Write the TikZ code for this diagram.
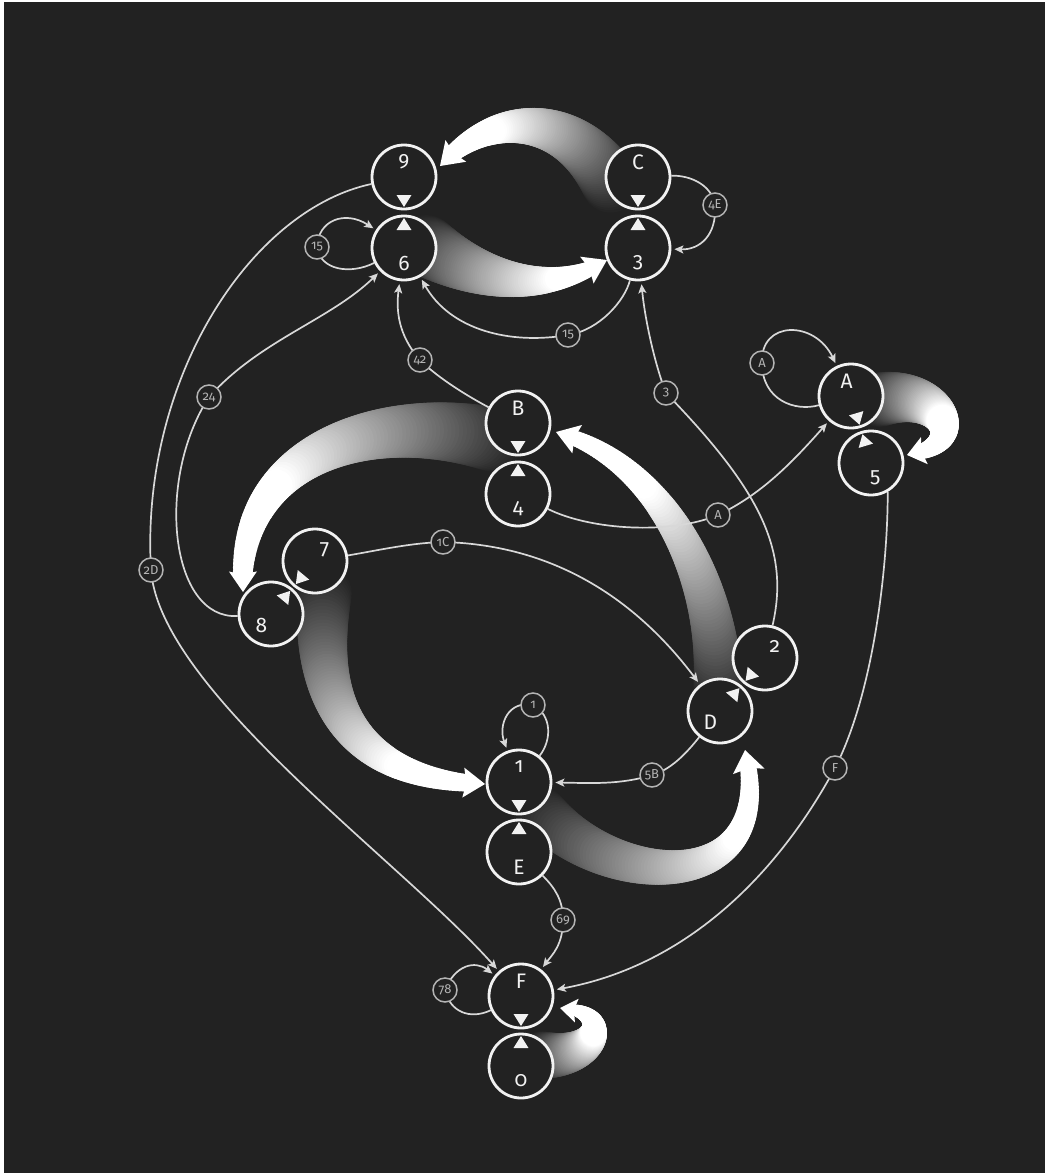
\documentclass[tikz,border=0pt]{standalone}
\usepackage{fontspec}
\setmainfont{Fira Sans}[Numbers=OldStyle]
\usetikzlibrary{arrows.meta,calc}
\definecolor{bg}{HTML}{222222}
\definecolor{edgec}{HTML}{D8D8D8}
\definecolor{lblc}{HTML}{B4B4B4}
\definecolor{nodec}{HTML}{F2F2F2}
\pgfdeclarelayer{bgl}
\pgfdeclarelayer{ribbons}
\pgfdeclarelayer{edges}
\pgfsetlayers{bgl,ribbons,edges,main}
\tikzset{
  stnode/.style={circle, draw=nodec, line width=2.8pt, fill=bg, minimum size=64pt, inner sep=0pt},
  lbl/.style={circle, draw=lblc, line width=1.5pt, fill=bg, minimum size=24pt, inner sep=0pt, text=lblc, font=\fontsize{13}{13}\selectfont},
  nlab/.style={text=nodec, font=\fontsize{21}{21}\selectfont, inner sep=0pt},
  link/.style={draw=edgec, line width=1.7pt, -{Stealth[length=9pt,width=8pt,inset=2pt]}, shorten >=3pt},
}
% ribbon: P0 P1 P2 P3 w0 w1 tbase halfhead gradfactor
\newcommand\ribbon[9]{%
  \foreach \t in {0,0.01,...,#7} {
    \pgfmathsetmacro\p{min(100,#9*100*\t/#7)}
    \pgfmathsetmacro\r{(#5+(#6-#5)*\t/#7)/2}
    \path (#1) .. controls (#2) and (#3) .. (#4) coordinate[pos=\t] (rp);
    \fill[white!\p!bg] (rp) circle[radius=\r pt];
  }
  \path (#1) .. controls (#2) and (#3) .. (#4) coordinate[pos=#7] (rb);
  \fill[white] (#4) -- ($(rb)!#8pt!90:(#4)$) -- ($(rb)!3pt!(#4)$) -- ($(rb)!#8pt!-90:(#4)$) -- cycle;
}
\newcommand\tripoint[2]{\fill[nodec] ($(#1)!30pt!(#2)$) -- ($(#1)!19.5pt!22.6:(#2)$) -- ($(#1)!19.5pt!-22.6:(#2)$) -- cycle;}
\begin{document}
\begin{tikzpicture}[x=1pt,y=-1pt]
\useasboundingbox (0,0) rectangle (1045,1173);
\begin{pgfonlayer}{bgl}
\fill[white] (0,0) rectangle (1045,1173);
\fill[bg] (4,2) rectangle (1045,1173);
\end{pgfonlayer}

% state nodes
\node[stnode] (n9) at (404,177) {};
\node[stnode] (n6) at (404,248) {};
\node[stnode] (nC) at (638,177) {};
\node[stnode] (n3) at (638,248) {};
\node[stnode] (nA) at (851,396) {};
\node[stnode] (n5) at (871,463) {};
\node[stnode] (nB) at (518,423) {};
\node[stnode] (n4) at (518,494) {};
\node[stnode] (n7) at (315,561) {};
\node[stnode] (n8) at (271,614) {};
\node[stnode] (n2) at (765,658) {};
\node[stnode] (nD) at (720,711) {};
\node[stnode] (n1) at (519,782) {};
\node[stnode] (nE) at (519,852) {};
\node[stnode] (nF) at (521,996) {};
\node[stnode] (n0) at (521,1066) {};

% texts and triangles of the pairs
\foreach \a/\b/\ta/\tb in {n9/n6/9/6, nC/n3/C/3, nA/n5/A/5, nB/n4/B/4, n7/n8/7/8, n2/nD/2/D, n1/nE/1/E, nF/n0/F/0}{
  \node[nlab] (t\a) at ($(\a)!15pt!180:(\b)$) {\ta};
  \node[nlab] (t\b) at ($(\b)!15pt!180:(\a)$) {\tb};
  \tripoint{\a}{\b}
  \tripoint{\b}{\a}
}

% edge labels
\node[lbl] (l2D) at (151,570) {2D};
\node[lbl] (l24) at (209,397) {24};
\node[lbl] (l42) at (420,360) {42};
\node[lbl] (l15a) at (317,247) {15};
\node[lbl] (l15b) at (568,335) {15};
\node[lbl] (l4E) at (715,205) {4E};
\node[lbl] (l3) at (666,393) {3};
\node[lbl] (lAa) at (762,363) {A};
\node[lbl] (lAb) at (718,515) {A};
\node[lbl] (l1C) at (443,542) {1C};
\node[lbl] (l5B) at (652,775) {5B};
\node[lbl] (l1) at (533,705) {1};
\node[lbl] (l69) at (563,920) {69};
\node[lbl] (l78) at (445,990) {78};
\node[lbl] (lF) at (835,768) {F};

\begin{pgfonlayer}{ribbons}
\ribbon{612,185}{570,110}{490,110}{440,166}{60}{18}{0.9}{15}{1.3}
\ribbon{425,245}{470,275}{540,300}{607,260}{62}{16}{0.9}{15}{1.2}
\ribbon{495,440}{380,410}{235,450}{243,592}{65}{20}{0.95}{14}{1.4}
\ribbon{718,690}{720,580}{660,460}{556,432}{50}{16}{0.93}{15}{1.4}
\ribbon{325,590}{310,710}{360,780}{485,784}{55}{18}{0.94}{15}{1.3}
\ribbon{540,810}{610,890}{780,900}{745,750}{50}{17}{0.95}{16}{1.3}
\ribbon{878,400}{940,385}{975,445}{907,455}{55}{16}{0.9}{14}{1.7}
\ribbon{540,1055}{600,1060}{615,1010}{560,1008}{48}{12}{0.88}{12}{1.7}
\end{pgfonlayer}

\begin{pgfonlayer}{edges}
\draw[link] (n9) .. controls (250,210) and (140,380) .. (l2D.center) .. controls (160,690) and (400,860) .. (nF);
\draw[link] (n8) .. controls (170,620) and (155,480) .. (l24.center) .. controls (260,340) and (330,320) .. (n6);
\draw[link] (nB) .. controls (460,392) and (435,375) .. (l42.center) .. controls (398,335) and (396,310) .. (n6);
\draw[link] (n3) .. controls (625,300) and (600,330) .. (l15b.center) .. controls (510,345) and (450,330) .. (n6);
\draw[link] (n6) .. controls (350,275) and (320,270) .. (l15a.center) .. controls (318,220) and (345,210) .. (n6);
\draw[link] (nC) .. controls (690,175) and (712,185) .. (l4E.center) .. controls (717,235) and (700,250) .. (n3);
\draw[link] (n2) .. controls (790,550) and (760,490) .. (l3.center) .. controls (655,365) and (645,320) .. (n3);
\draw[link] (nA) .. controls (795,412) and (762,400) .. (lAa.center) .. controls (760,320) and (815,320) .. (nA);
\draw[link] (n4) .. controls (590,530) and (670,535) .. (lAb.center) .. controls (760,495) and (790,465) .. (nA);
\draw[link] (n7) .. controls (380,550) and (410,543) .. (l1C.center) .. controls (560,545) and (640,605) .. (nD);
\draw[link] (nD) .. controls (685,755) and (670,770) .. (l5B.center) .. controls (620,785) and (590,783) .. (n1);
\draw[link] (n1) .. controls (552,740) and (552,715) .. (l1.center) .. controls (508,700) and (498,725) .. (n1);
\draw[link] (nE) .. controls (555,888) and (563,900) .. (l69.center) .. controls (563,945) and (552,955) .. (nF);
\draw[link] (nF) .. controls (470,1020) and (450,1012) .. (l78.center) .. controls (455,965) and (475,960) .. (nF);
\draw[link] (n5.-60) .. controls (888,560) and (875,690) .. (lF.center) .. controls (780,870) and (690,965) .. (nF);
\end{pgfonlayer}
\end{tikzpicture}
\end{document}
